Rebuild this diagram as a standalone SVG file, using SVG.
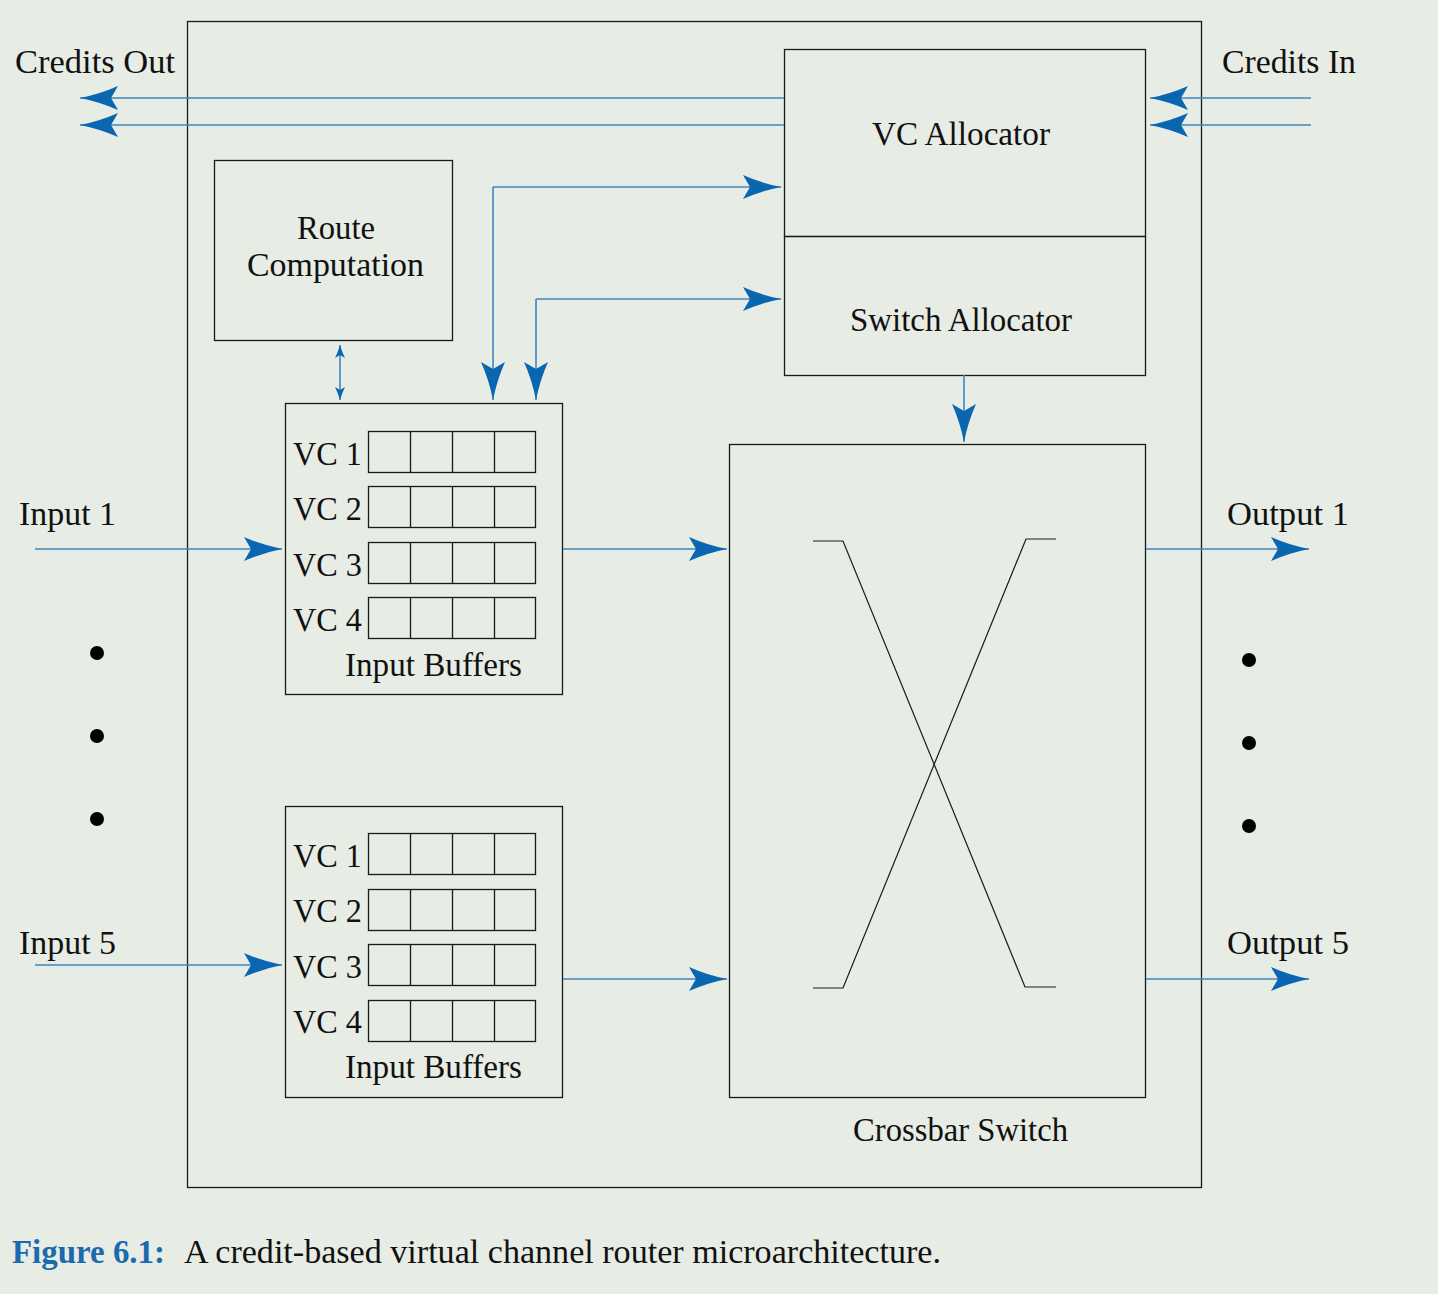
<svg xmlns="http://www.w3.org/2000/svg" width="1438" height="1294" viewBox="0 0 1438 1294">
<style>
.bx{fill:none;stroke:#1a1a1a;stroke-width:1.3}
.cell{fill:none;stroke:#1a1a1a;stroke-width:1.3}
.t{font-family:"Liberation Serif","DejaVu Serif",serif;font-size:33px;fill:#111}
.c{stroke:#3f86c2;stroke-width:1.6;fill:none}
.x{stroke:#1a1a1a;stroke-width:1.2;fill:none}
</style>
<defs>
<marker id="ah" markerUnits="userSpaceOnUse" markerWidth="42" markerHeight="28" viewBox="-40 -14 42 28" refX="0" refY="0" orient="auto">
<path d="M0,0 Q-20,-4 -38,-12 L-31,0 L-38,12 Q-20,4 0,0Z" fill="#0a66b0"/>
</marker>
<marker id="sh" markerUnits="userSpaceOnUse" markerWidth="16" markerHeight="12" viewBox="-15 -6 16 12" refX="0" refY="0" orient="auto-start-reverse">
<path d="M0,0 Q-7,-2 -13,-5 L-10,0 L-13,5 Q-7,2 0,0Z" fill="#0a66b0"/>
</marker>
</defs>
<rect width="1438" height="1294" fill="#e7ece4"/>
<rect x="187.5" y="21.5" width="1014" height="1166" class="bx"/>

<g id="vc-allocator">
<rect x="784.5" y="49.5" width="361" height="187" class="bx"/>
<text class="t" x="872" y="145" textLength="178" lengthAdjust="spacingAndGlyphs">VC Allocator</text>
</g>
<g id="switch-allocator">
<rect x="784.5" y="236.5" width="361" height="139" class="bx"/>
<text class="t" x="850" y="331" textLength="222" lengthAdjust="spacingAndGlyphs">Switch Allocator</text>
</g>
<g id="route-computation">
<rect x="214.5" y="160.5" width="238" height="180" class="bx"/>
<text class="t" x="297" y="239" textLength="78" lengthAdjust="spacingAndGlyphs">Route</text>
<text class="t" x="247" y="276" textLength="177" lengthAdjust="spacingAndGlyphs">Computation</text>
</g>

<g id="input-buffers-1">
<rect x="285.5" y="403.5" width="277" height="291" class="bx"/>
<g class="cell">
<rect x="368.5" y="431.5" width="167" height="41"/><path d="M410.5 431.5v41M452.5 431.5v41M494.5 431.5v41"/>
<rect x="368.5" y="486.5" width="167" height="41"/><path d="M410.5 486.5v41M452.5 486.5v41M494.5 486.5v41"/>
<rect x="368.5" y="542.5" width="167" height="41"/><path d="M410.5 542.5v41M452.5 542.5v41M494.5 542.5v41"/>
<rect x="368.5" y="597.5" width="167" height="41"/><path d="M410.5 597.5v41M452.5 597.5v41M494.5 597.5v41"/>
</g>
<text class="t" x="293" y="465" textLength="69" lengthAdjust="spacingAndGlyphs">VC 1</text>
<text class="t" x="293" y="520" textLength="69" lengthAdjust="spacingAndGlyphs">VC 2</text>
<text class="t" x="293" y="576" textLength="69" lengthAdjust="spacingAndGlyphs">VC 3</text>
<text class="t" x="293" y="631" textLength="69" lengthAdjust="spacingAndGlyphs">VC 4</text>
<text class="t" x="345" y="676" textLength="177" lengthAdjust="spacingAndGlyphs">Input Buffers</text>
</g>

<g id="input-buffers-5">
<rect x="285.5" y="806.5" width="277" height="291" class="bx"/>
<g class="cell">
<rect x="368.5" y="833.5" width="167" height="41"/><path d="M410.5 833.5v41M452.5 833.5v41M494.5 833.5v41"/>
<rect x="368.5" y="889.5" width="167" height="41"/><path d="M410.5 889.5v41M452.5 889.5v41M494.5 889.5v41"/>
<rect x="368.5" y="944.5" width="167" height="41"/><path d="M410.5 944.5v41M452.5 944.5v41M494.5 944.5v41"/>
<rect x="368.5" y="1000.5" width="167" height="41"/><path d="M410.5 1000.5v41M452.5 1000.5v41M494.5 1000.5v41"/>
</g>
<text class="t" x="293" y="867" textLength="69" lengthAdjust="spacingAndGlyphs">VC 1</text>
<text class="t" x="293" y="922" textLength="69" lengthAdjust="spacingAndGlyphs">VC 2</text>
<text class="t" x="293" y="978" textLength="69" lengthAdjust="spacingAndGlyphs">VC 3</text>
<text class="t" x="293" y="1033" textLength="69" lengthAdjust="spacingAndGlyphs">VC 4</text>
<text class="t" x="345" y="1078" textLength="177" lengthAdjust="spacingAndGlyphs">Input Buffers</text>
</g>

<g id="crossbar-switch">
<rect x="729.5" y="444.5" width="416" height="653" class="bx"/>
<path class="x" d="M813 541H843L1025 987H1056"/>
<path class="x" d="M1056 539H1026L843 988H813"/>
<text class="t" x="853" y="1141" textLength="215" lengthAdjust="spacingAndGlyphs">Crossbar Switch</text>
</g>

<g id="labels">
<text class="t" x="15" y="73" textLength="160" lengthAdjust="spacingAndGlyphs">Credits Out</text>
<text class="t" x="1222" y="73" textLength="134" lengthAdjust="spacingAndGlyphs">Credits In</text>
<text class="t" x="19" y="525" textLength="97" lengthAdjust="spacingAndGlyphs">Input 1</text>
<text class="t" x="19" y="954" textLength="97" lengthAdjust="spacingAndGlyphs">Input 5</text>
<text class="t" x="1227" y="525" textLength="122" lengthAdjust="spacingAndGlyphs">Output 1</text>
<text class="t" x="1227" y="954" textLength="122" lengthAdjust="spacingAndGlyphs">Output 5</text>
<circle cx="97" cy="653" r="7" fill="#000"/>
<circle cx="97" cy="736" r="7" fill="#000"/>
<circle cx="97" cy="819" r="7" fill="#000"/>
<circle cx="1249" cy="660" r="7" fill="#000"/>
<circle cx="1249" cy="743" r="7" fill="#000"/>
<circle cx="1249" cy="826" r="7" fill="#000"/>
</g>

<g id="connectors">
<path class="c" d="M784 98H80" marker-end="url(#ah)"/>
<path class="c" d="M784 125H80" marker-end="url(#ah)"/>
<path class="c" d="M1311 98H1150" marker-end="url(#ah)"/>
<path class="c" d="M1311 125H1150" marker-end="url(#ah)"/>
<path class="c" d="M493 187H781" marker-end="url(#ah)"/>
<path class="c" d="M493 187V400" marker-end="url(#ah)"/>
<path class="c" d="M536 299H781" marker-end="url(#ah)"/>
<path class="c" d="M536 299V400" marker-end="url(#ah)"/>
<path class="c" d="M340 345V400" marker-start="url(#sh)" marker-end="url(#sh)"/>
<path class="c" d="M964 375V442" marker-end="url(#ah)"/>
<path class="c" d="M35 549H282" marker-end="url(#ah)"/>
<path class="c" d="M563 549H727" marker-end="url(#ah)"/>
<path class="c" d="M35 965H282" marker-end="url(#ah)"/>
<path class="c" d="M563 979H727" marker-end="url(#ah)"/>
<path class="c" d="M1146 549H1309" marker-end="url(#ah)"/>
<path class="c" d="M1146 979H1309" marker-end="url(#ah)"/>
</g>

<g id="caption">
<text x="12" y="1263" textLength="153" lengthAdjust="spacingAndGlyphs" style="font-family:'Liberation Serif',serif;font-size:33px;font-weight:bold;fill:#1a6aad">Figure 6.1:</text>
<text class="t" x="184" y="1263" textLength="757" lengthAdjust="spacingAndGlyphs">A credit-based virtual channel router microarchitecture.</text>
</g>
</svg>
